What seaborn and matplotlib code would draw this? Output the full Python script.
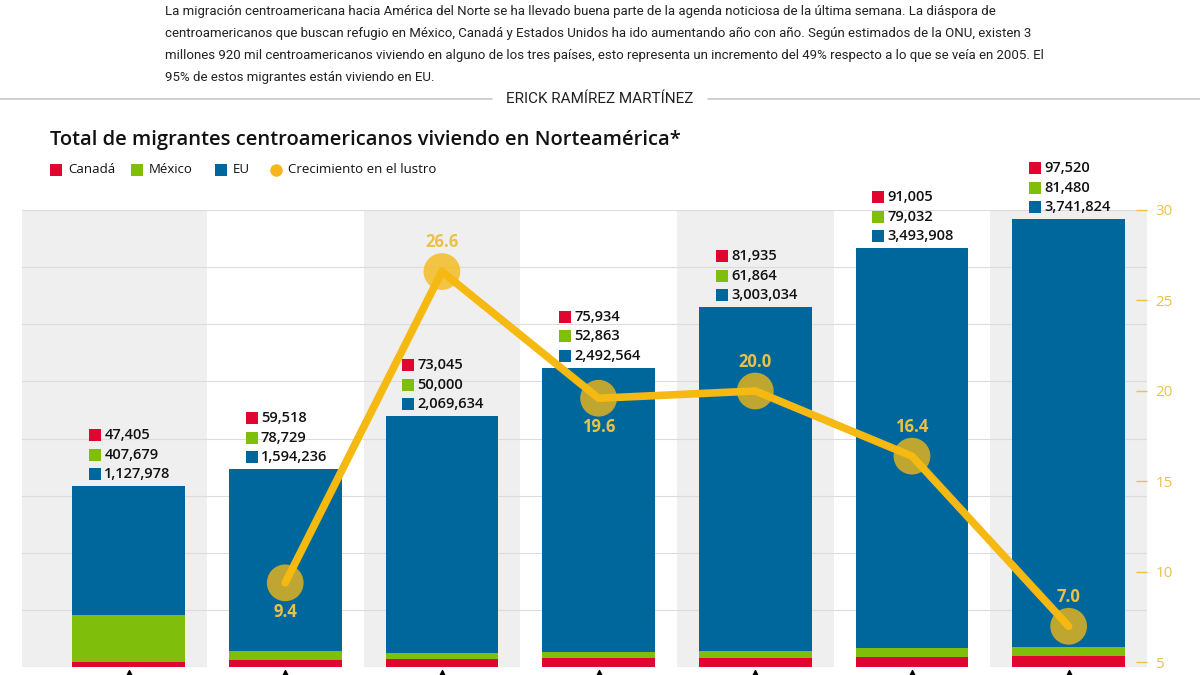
import matplotlib
matplotlib.use("Agg")
import matplotlib.pyplot as plt
import seaborn as sns
import pandas as pd
import numpy as np
from matplotlib import font_manager

years = ['1990', '1995', '2000', '2005', '2010', '2015', '2019']
canada = [47405, 59518, 73045, 75934, 81935, 91005, 97520]
mexico = [407679, 78729, 50000, 52863, 61864, 79032, 81480]
eu = [1127978, 1594236, 2069634, 2492564, 3003034, 3493908, 3741824]
growth_years = ['1995', '2000', '2005', '2010', '2015', '2019']
growth = [9.4, 26.6, 19.6, 20.0, 16.4, 7.0]
right_ticks = [5, 10, 15, 20, 25, 30]

RED = '#e1062f'
GREEN = '#7fbf0c'
BLUE = '#00679d'
YELLOW = '#f5b912'
GOLD_TXT = '#e9c246'

sns.set_theme(style='white')
avail = {f.name for f in font_manager.fontManager.ttflist}
main_font = 'Open Sans' if 'Open Sans' in avail else 'DejaVu Sans'
narrow_font = 'Liberation Sans Narrow' if 'Liberation Sans Narrow' in avail else 'Roboto'
narrow_size = 10.5 if narrow_font == 'Liberation Sans Narrow' else 9.5
plt.rcParams['font.family'] = [main_font, 'DejaVu Sans']

df = pd.DataFrame({'year': years, 'canada': canada, 'mexico': mexico, 'eu': eu})
df['cm'] = df['canada'] + df['mexico']
df['total'] = df['cm'] + df['eu']
n = len(years)

fig = plt.figure(figsize=(12, 6.75), dpi=100)
ax = fig.add_axes([22 / 1200, 8 / 675, 1125 / 1200, 457 / 675])

# alternating column backgrounds
for i in range(0, n, 2):
    left = i - 0.5 if i > 0 else -0.68
    ax.axvspan(left, i + 0.5, color='#efefef', zorder=0, lw=0)
for yv in np.arange(0, 4.01e6, 0.5e6):
    ax.axhline(yv, color='#dcdcdc', lw=0.8, zorder=0.5)

w = 0.72
bar_kw = dict(width=w, saturation=1, ax=ax, linewidth=0, edgecolor='none')
sns.barplot(data=df, x='year', y='total', color=BLUE, zorder=2, **bar_kw)
sns.barplot(data=df, x='year', y='cm', color=GREEN, zorder=3, **bar_kw)
sns.barplot(data=df, x='year', y='canada', color=RED, zorder=4, **bar_kw)

ax.set_xlim(-0.68, n - 0.5)
ax.set_ylim(0, 4.0e6)
ax.set_xlabel('')
ax.set_ylabel('')
ax.set_yticks([])
ax.set_xticks([])
for s in ax.spines.values():
    s.set_visible(False)

# value labels above bars
px = 4.0e6 / 457
for i in range(n):
    top = df['total'][i]
    vals = [(canada[i], RED), (mexico[i], GREEN), (eu[i], BLUE)]
    for j, (v, c) in enumerate(vals):
        yy = top + (12 + (2 - j) * 19.5) * px
        ax.scatter([i - 0.215], [yy], marker='s', s=80, color=c, zorder=6, clip_on=False, linewidths=0)
        ax.text(i - 0.155, yy, f'{v:,}', ha='left', va='center', fontsize=10.5,
                fontweight='semibold', color='#111111', zorder=6, clip_on=False)

# small triangles at bottom
ax.scatter(range(n), [-0.055e6] * n, marker='^', s=18, color='black', clip_on=False, zorder=6)

# growth line on right axis
ax2 = ax.twinx()
gx = [years.index(y) for y in growth_years]
gdf = pd.DataFrame({'x': gx, 'g': growth})
sns.scatterplot(data=gdf, x='x', y='g', color=YELLOW, alpha=0.78, s=700, edgecolor='none', ax=ax2, zorder=4)
sns.lineplot(data=gdf, x='x', y='g', color=YELLOW, lw=5.5, ax=ax2, zorder=5)
offsets = [-1, 1, -1, 1, 1, 1]
for x, g, o in zip(gx, growth, offsets):
    ax2.annotate(f'{g:.1f}', (x, g), xytext=(0, 21 * o), textcoords='offset points',
                 ha='center', va='center', fontsize=12, fontweight='bold', color=GOLD_TXT, zorder=7)
ax2.set_ylim(4.75, 29.7)
ax2.set_xlim(-0.68, n - 0.5)
ax2.set_yticks(right_ticks)
ax2.set_yticklabels([str(t) for t in right_ticks])
ax2.tick_params(axis='y', direction='in', length=8, width=1, color=GOLD_TXT, labelcolor=GOLD_TXT,
                labelsize=11, pad=6, right=True)
ax2.set_ylabel('')
ax2.set_xlabel('')
for s in ax2.spines.values():
    s.set_visible(False)

# header text
para = [
    'La migración centroamericana hacia América del Norte se ha llevado buena parte de la agenda noticiosa de la última semana. La diáspora de',
    'centroamericanos que buscan refugio en México, Canadá y Estados Unidos ha ido aumentando año con año. Según estimados de la ONU, existen 3',
    'millones 920 mil centroamericanos viviendo en alguno de los tres países, esto representa un incremento del 49% respecto a lo que se veía en 2005. El',
    '95% de estos migrantes están viviendo en EU.',
]
for k, line in enumerate(para):
    fig.text(165 / 1200, 1 - (11 + 22 * k) / 675, line, ha='left', va='center', fontsize=narrow_size,
             family=[narrow_font, 'DejaVu Sans'], color='#222222')

fig.text(0.5, 1 - 99 / 675, 'ERICK RAMÍREZ MARTÍNEZ', ha='center', va='center', fontsize=11,
         family=[narrow_font, 'DejaVu Sans'], color='#222222')
fig.add_artist(plt.Line2D([0, 492 / 1200], [1 - 99 / 675] * 2, color='#c8c8c8', lw=1.2))
fig.add_artist(plt.Line2D([708 / 1200, 1], [1 - 99 / 675] * 2, color='#c8c8c8', lw=1.2))

fig.text(50 / 1200, 1 - 140 / 675, 'Total de migrantes centroamericanos viviendo en Norteamérica*',
         ha='left', va='center', fontsize=14.5, fontweight='semibold', color='#111111')

# legend
ly = 1 - 170 / 675
leg = [(50, 'Canadá', RED, 's'), (131, 'México', GREEN, 's'), (215, 'EU', BLUE, 's'),
       (270, 'Crecimiento en el lustro', '#f5b51c', 'o')]
for xpx, lab, c, m in leg:
    fig.add_artist(plt.Line2D([(xpx + 6) / 1200], [ly], marker=m, markersize=9, color=c, lw=0,
                              markeredgewidth=0))
    fig.text((xpx + 18) / 1200, ly, lab, ha='left', va='center', fontsize=9.5, color='#111111',
             fontweight='medium')

fig.savefig('out.png', dpi=100)
